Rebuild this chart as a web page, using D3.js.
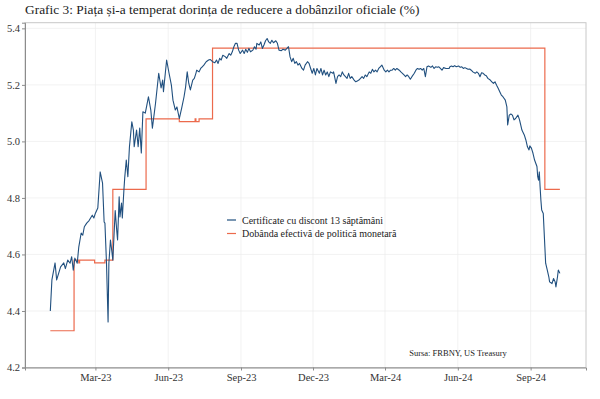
<!DOCTYPE html>
<html>
<head>
<meta charset="utf-8">
<script src="https://cdn.jsdelivr.net/npm/d3@7"></script>
<style>
  body { margin: 0; background: #fff; }
  svg { display: block; }
</style>
</head>
<body>
<svg id="chart" width="600" height="399"></svg>
<script>
const titleText = "Grafic 3: Piața și-a temperat dorința de reducere a dobânzilor oficiale (%)";
const sourceText = "Sursa: FRBNY, US Treasury";
const seriesNames = ["Certificate cu discont 13 săptămâni", "Dobânda efectivă de politică monetară"];
const yTicks = [4.2, 4.4, 4.6, 4.8, 5.0, 5.2, 5.4];
const xTicks = ["2023-03-01", "2023-06-01", "2023-09-01", "2023-12-01", "2024-03-01", "2024-06-01", "2024-09-01"];

// 13-week bill yield
const billDates = [
  "2023-01-03","2023-01-05","2023-01-09","2023-01-11","2023-01-16","2023-01-20","2023-01-22","2023-01-25","2023-01-28","2023-01-30",
  "2023-02-01","2023-02-03","2023-02-06","2023-02-08","2023-02-11","2023-02-13","2023-02-15","2023-02-18","2023-02-21","2023-02-25",
  "2023-02-27","2023-03-01","2023-03-04","2023-03-07","2023-03-10","2023-03-12","2023-03-13","2023-03-15","2023-03-17","2023-03-18",
  "2023-03-20","2023-03-22","2023-03-23","2023-03-26","2023-03-28","2023-03-29","2023-03-31","2023-04-01","2023-04-03","2023-04-04",
  "2023-04-06","2023-04-07","2023-04-09","2023-04-11","2023-04-13","2023-04-16","2023-04-18","2023-04-19","2023-04-22","2023-04-24",
  "2023-04-26","2023-04-28","2023-04-30","2023-05-03","2023-05-05","2023-05-07","2023-05-10","2023-05-12","2023-05-16","2023-05-20",
  "2023-05-23","2023-05-25","2023-05-26","2023-05-30","2023-06-02","2023-06-05","2023-06-07","2023-06-10","2023-06-12","2023-06-15",
  "2023-06-18","2023-06-21","2023-06-23","2023-06-25","2023-06-27","2023-06-29","2023-07-02","2023-07-04","2023-07-06","2023-07-07",
  "2023-07-10","2023-07-12","2023-07-14","2023-07-16","2023-07-19","2023-07-22","2023-07-24","2023-07-27","2023-07-30","2023-08-01",
  "2023-08-03","2023-08-05","2023-08-07","2023-08-09","2023-08-12","2023-08-14","2023-08-17","2023-08-19","2023-08-21","2023-08-23",
  "2023-08-25","2023-08-27","2023-08-29","2023-08-31","2023-09-03","2023-09-05","2023-09-07","2023-09-09","2023-09-11","2023-09-13",
  "2023-09-16","2023-09-18","2023-09-20","2023-09-21","2023-09-24","2023-09-26","2023-09-28","2023-09-30","2023-10-02","2023-10-04",
  "2023-10-06","2023-10-08","2023-10-10","2023-10-12","2023-10-15","2023-10-17","2023-10-19","2023-10-22","2023-10-24","2023-10-27",
  "2023-10-29","2023-10-31","2023-11-02","2023-11-04","2023-11-06","2023-11-08","2023-11-10","2023-11-12","2023-11-14","2023-11-17",
  "2023-11-19","2023-11-21","2023-11-24","2023-11-26","2023-11-28","2023-11-30","2023-12-02","2023-12-04","2023-12-06","2023-12-09",
  "2023-12-11","2023-12-13","2023-12-15","2023-12-17","2023-12-19","2023-12-21","2023-12-23","2023-12-26","2023-12-27","2023-12-30",
  "2024-01-01","2024-01-03","2024-01-05","2024-01-07","2024-01-09","2024-01-11","2024-01-13","2024-01-15","2024-01-17","2024-01-19",
  "2024-01-22","2024-01-24","2024-01-26","2024-01-28","2024-01-30","2024-02-01","2024-02-03","2024-02-05","2024-02-07","2024-02-10",
  "2024-02-12","2024-02-14","2024-02-16","2024-02-18","2024-02-20","2024-02-22","2024-02-24","2024-02-26","2024-02-29","2024-03-02",
  "2024-03-04","2024-03-06","2024-03-08","2024-03-10","2024-03-12","2024-03-14","2024-03-16","2024-03-19","2024-03-21","2024-03-23",
  "2024-03-25","2024-03-27","2024-03-29","2024-03-31","2024-04-02","2024-04-04","2024-04-07","2024-04-09","2024-04-11","2024-04-13",
  "2024-04-15","2024-04-17","2024-04-19","2024-04-21","2024-04-23","2024-04-25","2024-04-28","2024-04-30","2024-05-02","2024-05-04",
  "2024-05-06","2024-05-08","2024-05-10","2024-05-12","2024-05-14","2024-05-17","2024-05-19","2024-05-21","2024-05-22","2024-05-24",
  "2024-05-26","2024-05-28","2024-05-30","2024-06-02","2024-06-04","2024-06-06","2024-06-08","2024-06-10","2024-06-12","2024-06-14",
  "2024-06-16","2024-06-18","2024-06-20","2024-06-23","2024-06-25","2024-06-27","2024-06-29","2024-07-01","2024-07-03","2024-07-05",
  "2024-07-07","2024-07-09","2024-07-12","2024-07-14","2024-07-16","2024-07-18","2024-07-20","2024-07-22","2024-07-24","2024-07-26",
  "2024-07-28","2024-07-31","2024-08-02","2024-08-03","2024-08-05","2024-08-07","2024-08-09","2024-08-11","2024-08-13","2024-08-16",
  "2024-08-18","2024-08-20","2024-08-21","2024-08-24","2024-08-26","2024-08-28","2024-08-30","2024-08-31","2024-09-02","2024-09-04",
  "2024-09-06","2024-09-09","2024-09-10","2024-09-11","2024-09-12","2024-09-13","2024-09-14","2024-09-15","2024-09-17","2024-09-18",
  "2024-09-19","2024-09-20","2024-09-22","2024-09-24","2024-09-25","2024-09-28","2024-09-30","2024-10-02","2024-10-03","2024-10-05",
  "2024-10-06","2024-10-08"
];
const billValues = [
  4.40,4.51,4.57,4.51,4.556,4.57,4.55,4.58,4.569,4.592,
  4.544,4.587,4.569,4.627,4.676,4.668,4.698,4.711,4.72,4.739,
  4.729,4.746,4.764,4.892,4.852,4.715,4.711,4.569,4.361,4.569,
  4.651,4.605,4.58,4.755,4.682,4.651,4.804,4.733,4.782,4.729,
  4.828,4.87,4.934,4.875,4.981,5.069,5.04,4.981,5.04,4.981,
  5.047,4.959,5.105,5.10,5.128,5.158,5.111,5.047,5.136,5.241,
  5.189,5.217,5.176,5.288,5.242,5.199,5.146,5.111,5.122,5.081,
  5.118,5.158,5.193,5.246,5.205,5.182,5.217,5.223,5.241,5.252,
  5.246,5.258,5.264,5.27,5.282,5.288,5.29,5.282,5.278,5.288,
  5.276,5.294,5.288,5.305,5.30,5.294,5.311,5.305,5.317,5.335,
  5.347,5.347,5.323,5.311,5.323,5.311,5.326,5.315,5.329,5.317,
  5.323,5.335,5.326,5.347,5.341,5.352,5.329,5.341,5.356,5.364,
  5.352,5.347,5.358,5.349,5.356,5.347,5.323,5.321,5.326,5.323,
  5.329,5.335,5.299,5.282,5.294,5.276,5.282,5.27,5.276,5.258,
  5.252,5.27,5.282,5.276,5.258,5.241,5.258,5.235,5.258,5.241,
  5.258,5.235,5.252,5.235,5.246,5.229,5.246,5.241,5.246,5.205,
  5.229,5.235,5.229,5.246,5.235,5.229,5.223,5.241,5.223,5.229,
  5.217,5.211,5.214,5.217,5.223,5.229,5.223,5.235,5.229,5.246,
  5.241,5.255,5.246,5.252,5.246,5.258,5.264,5.27,5.252,5.246,
  5.252,5.246,5.252,5.252,5.258,5.252,5.258,5.252,5.246,5.241,
  5.235,5.229,5.235,5.229,5.22,5.229,5.241,5.252,5.258,5.255,
  5.258,5.252,5.258,5.229,5.264,5.267,5.262,5.267,5.258,5.264,
  5.262,5.264,5.258,5.252,5.261,5.258,5.258,5.258,5.264,5.267,
  5.264,5.268,5.264,5.267,5.262,5.264,5.258,5.261,5.258,5.255,
  5.256,5.252,5.246,5.241,5.246,5.241,5.229,5.243,5.241,5.235,
  5.232,5.223,5.217,5.211,5.205,5.211,5.199,5.188,5.176,5.164,
  5.158,5.146,5.122,5.058,5.093,5.097,5.093,5.076,5.081,5.093,
  5.076,5.052,5.04,5.023,5.005,4.981,4.97,4.984,4.976,4.958,
  4.934,4.911,4.875,4.863,4.892,4.839,4.792,4.757,4.745,4.686,
  4.627,4.569,4.545,4.521,4.503,4.497,4.515,4.503,4.485,4.521,
  4.545,4.533
];

// effective fed funds rate, change points only (drawn as steps)
const effrDates = [
  "2023-01-03","2023-02-02","2023-02-08","2023-02-09","2023-02-28","2023-03-13","2023-03-23","2023-05-04",
  "2023-06-15","2023-07-05","2023-07-06","2023-07-10","2023-07-27","2024-09-19","2024-10-08"
];
const effrValues = [
  4.33,4.58,4.57,4.58,4.57,4.58,4.83,5.08,
  5.07,5.08,5.07,5.08,5.33,4.83,4.83
];

const width = 600, height = 399;
const panel = { left: 25, right: 586, top: 22.7, bottom: 367.5 };
const fontSerif = "'Liberation Serif', 'DejaVu Serif', serif";
const blue = "#21507f";
const red = "#ec6a4c";

const parse = d3.utcParse("%Y-%m-%d");
const bill = billDates.map((d, i) => ({ date: parse(d), value: billValues[i] }));
const effr = effrDates.map((d, i) => ({ date: parse(d), value: effrValues[i] }));

const x = d3.scaleUtc()
  .domain([parse("2022-12-02"), parse("2024-11-10")])
  .range([panel.left, panel.right]);
const y = d3.scaleLinear()
  .domain([4.2, 5.42])
  .range([panel.bottom, panel.top]);

const svg = d3.select("#chart").attr("font-family", fontSerif);

svg.append("text")
  .attr("x", 25)
  .attr("y", 13.5)
  .attr("font-size", 13.4)
  .attr("fill", "#222")
  .text(titleText);

// grid
const grid = svg.append("g").attr("stroke", "#ededed").attr("stroke-width", 0.7);
grid.selectAll("line.gy")
  .data(yTicks)
  .join("line")
  .attr("class", "gy")
  .attr("x1", panel.left).attr("x2", panel.right)
  .attr("y1", (d) => y(d)).attr("y2", (d) => y(d));
grid.selectAll("line.gx")
  .data(xTicks.map(parse))
  .join("line")
  .attr("class", "gx")
  .attr("x1", (d) => x(d)).attr("x2", (d) => x(d))
  .attr("y1", panel.top).attr("y2", panel.bottom);

// panel border
svg.append("rect")
  .attr("x", panel.left).attr("y", panel.top)
  .attr("width", panel.right - panel.left)
  .attr("height", panel.bottom - panel.top)
  .attr("fill", "none")
  .attr("stroke", "#c8c8c8")
  .attr("stroke-width", 1);

// axes
const xAxis = d3.axisBottom(x)
  .tickValues(xTicks.map(parse))
  .tickFormat(d3.utcFormat("%b-%y"))
  .tickSize(3)
  .tickPadding(3);
const yAxis = d3.axisLeft(y)
  .tickValues(yTicks)
  .tickFormat(d3.format(".1f"))
  .tickSize(3)
  .tickPadding(2);

svg.append("g")
  .attr("transform", `translate(0,${panel.bottom})`)
  .call(xAxis)
  .call((g) => g.select(".domain").attr("stroke", "#8c8c8c"))
  .call((g) => g.selectAll(".tick line").attr("stroke", "#8c8c8c"))
  .call((g) => g.selectAll("text").attr("font-family", fontSerif).attr("font-size", 10.5).attr("fill", "#333"));

svg.append("g")
  .attr("transform", `translate(${panel.left},0)`)
  .call(yAxis)
  .call((g) => g.select(".domain").attr("stroke", "#8c8c8c"))
  .call((g) => g.selectAll(".tick line").attr("stroke", "#8c8c8c"))
  .call((g) => g.selectAll("text").attr("font-family", fontSerif).attr("font-size", 10.5).attr("fill", "#333"));

// series
const billLine = d3.line()
  .x((d) => x(d.date))
  .y((d) => y(d.value));
const effrLine = d3.line()
  .curve(d3.curveStepAfter)
  .x((d) => x(d.date))
  .y((d) => y(d.value));

svg.append("path")
  .datum(effr)
  .attr("d", effrLine)
  .attr("fill", "none")
  .attr("stroke", red)
  .attr("stroke-width", 1.2);

svg.append("path")
  .datum(bill)
  .attr("d", billLine)
  .attr("fill", "none")
  .attr("stroke", blue)
  .attr("stroke-width", 1.1)
  .attr("stroke-linejoin", "round");

// legend
const legend = svg.append("g")
  .attr("transform", "translate(227,220)")
  .selectAll("g")
  .data(seriesNames)
  .join("g")
  .attr("transform", (d, i) => `translate(0,${i * 13.5})`);
legend.append("line")
  .attr("x1", 0).attr("x2", 9)
  .attr("stroke", (d, i) => (i === 0 ? blue : red))
  .attr("stroke-width", 1.2);
legend.append("text")
  .attr("x", 15)
  .attr("dy", "0.35em")
  .attr("font-size", 10)
  .attr("fill", "#222")
  .text((d) => d);

svg.append("text")
  .attr("x", 458)
  .attr("y", 356)
  .attr("text-anchor", "middle")
  .attr("font-size", 8.5)
  .attr("fill", "#222")
  .text(sourceText);
</script>
</body>
</html>
